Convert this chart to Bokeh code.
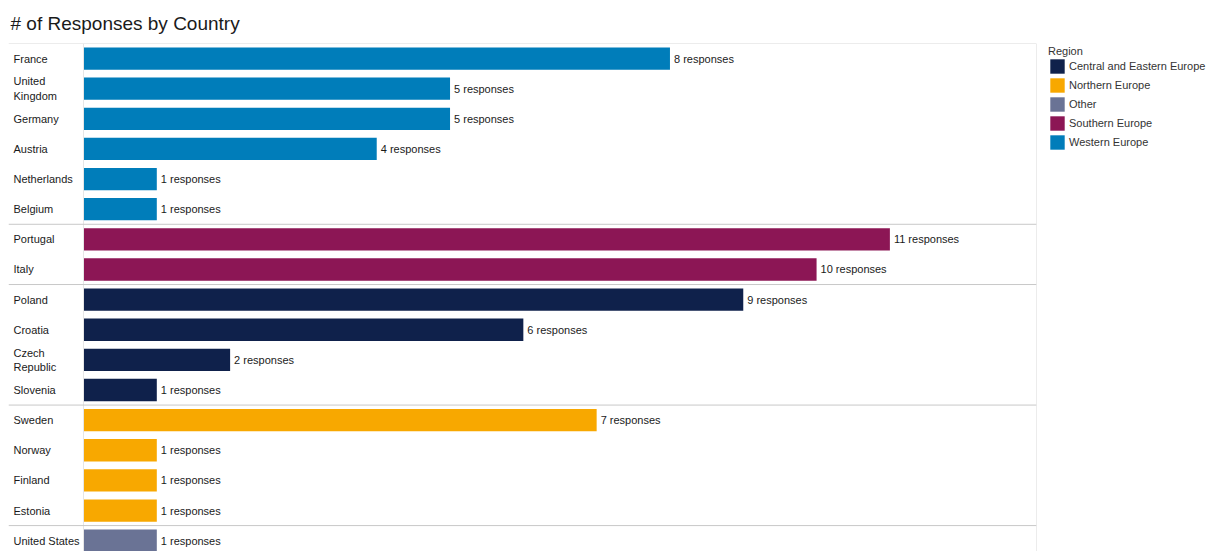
from bokeh.plotting import figure
from bokeh.layouts import row
from bokeh.models import ColumnDataSource, Range1d, Span, Legend, LegendItem
from bokeh.core.properties import value
from bokeh.embed import file_html
from bokeh.resources import INLINE

# ---------------- data ----------------
countries = ["France", "United\nKingdom", "Germany", "Austria", "Netherlands", "Belgium",
             "Portugal", "Italy",
             "Poland", "Croatia", "Czech\nRepublic", "Slovenia",
             "Sweden", "Norway", "Finland", "Estonia",
             "United States"]
responses = [8, 5, 5, 4, 1, 1,
             11, 10,
             9, 6, 2, 1,
             7, 1, 1, 1,
             1]
regions = ["Western Europe", "Western Europe", "Western Europe", "Western Europe", "Western Europe", "Western Europe",
           "Southern Europe", "Southern Europe",
           "Central and Eastern Europe", "Central and Eastern Europe", "Central and Eastern Europe", "Central and Eastern Europe",
           "Northern Europe", "Northern Europe", "Northern Europe", "Northern Europe",
           "Other"]
legend_order = ["Central and Eastern Europe", "Northern Europe", "Other", "Southern Europe", "Western Europe"]
region_colors = {
    "Central and Eastern Europe": "#0F214B",
    "Northern Europe": "#F8A800",
    "Other": "#6A7395",
    "Southern Europe": "#8C1655",
    "Western Europe": "#007DBA",
}

# ---------------- layout constants ----------------
W, H = 1209, 551
MAIN_W = 1040
FRAME_L, FRAME_R, FRAME_T = 8, 1036, 42
LABEL_COL = 75          # px width of the row-label column
ROW_PX = 30.19          # px per row
X_MAX = 13
FONT = "Liberation Sans"

frame_w = FRAME_R - FRAME_L
frame_h = H - FRAME_T
x_start = -X_MAX * LABEL_COL / (frame_w - LABEL_COL)
y_bottom = -0.5 + frame_h / ROW_PX

idx = list(range(len(countries)))
src = ColumnDataSource(dict(
    y=idx,
    country=countries,
    resp=responses,
    region=regions,
    color=[region_colors[r] for r in regions],
    lbl=[f"{v} responses" for v in responses],
    zero=[0] * len(idx),
))

p = figure(width=MAIN_W, height=H, output_backend="svg", toolbar_location=None,
           x_range=Range1d(x_start, X_MAX), y_range=Range1d(y_bottom, -0.5),
           min_border_left=FRAME_L, min_border_right=MAIN_W - FRAME_R,
           min_border_top=FRAME_T, min_border_bottom=0,
           x_axis_location=None, y_axis_location=None)
p.grid.visible = False
p.outline_line_color = None
p.background_fill_color = "white"
p.border_fill_color = "white"

# title
p.title.text = "# of Responses by Country"
p.title.text_font = FONT
p.title.text_font_size = "19px"
p.title.text_font_style = "normal"
p.title.text_color = "#1a1a1a"
p.title.align = "left"
p.title.offset = 2
p.title.standoff = 20

# bars
bars = p.hbar(y="y", left="zero", right="resp", height=0.74, source=src,
              fill_color="color", line_color=None)

# value labels
p.text(x="resp", y="y", text="lbl", source=src, x_offset=4,
       text_font=value(FONT), text_font_size="11px", text_color="#1a1a1a",
       text_align="left", text_baseline="middle")

# row labels
p.text(x=x_start, y="y", text="country", source=src, x_offset=5,
       text_font=value(FONT), text_font_size="11px", text_color="#1a1a1a",
       text_align="left", text_baseline="middle", text_line_height=1.2)

# borders / separators
p.add_layout(Span(location=-0.5, dimension="width", line_color="#d9d9d9", line_width=1))
p.add_layout(Span(location=X_MAX, dimension="height", line_color="#d9d9d9", line_width=1))
p.add_layout(Span(location=0, dimension="height", line_color="#e6e6e6", line_width=1))
for i in range(1, len(regions)):
    if regions[i] != regions[i - 1]:
        p.add_layout(Span(location=i - 0.5, dimension="width", line_color="#c8c8c8", line_width=1))

# ---------------- legend panel ----------------
lg = figure(width=W - MAIN_W, height=H, output_backend="svg", toolbar_location=None,
            x_range=Range1d(0, 1), y_range=Range1d(0, 1),
            min_border_left=0, min_border_right=0, min_border_top=0, min_border_bottom=0,
            x_axis_location=None, y_axis_location=None)
lg.grid.visible = False
lg.outline_line_color = None
lg_bars = lg.hbar(y="y", left="zero", right="resp", height=0.74, source=src,
                  fill_color="color", line_color=None, visible=False)

items = [LegendItem(label=r, renderers=[lg_bars], index=regions.index(r)) for r in legend_order]
legend = Legend(items=items, title="Region", location=(8, 400),
                margin=0, padding=0, spacing=1,
                glyph_width=18, glyph_height=18, label_height=18, label_standoff=3,
                label_text_font=FONT, label_text_font_size="11px", label_text_color="#333333",
                title_text_font=FONT, title_text_font_size="11px", title_text_font_style="normal",
                title_text_color="#333333", title_standoff=0,
                border_line_color=None, background_fill_alpha=0)
lg.add_layout(legend, "center")

layout = row(p, lg)
open("out.html", "w").write(file_html(layout, INLINE))
